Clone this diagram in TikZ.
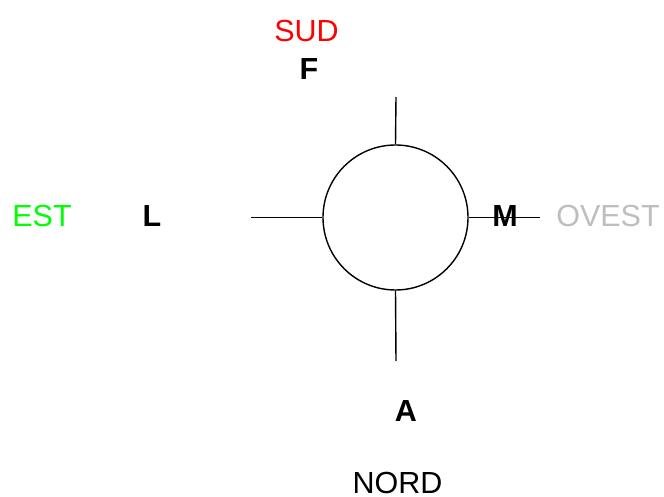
\documentclass[tikz,border=0pt]{standalone}
\usepackage{fontspec}
\setmainfont{Liberation Sans}
\begin{document}
\begin{tikzpicture}[x=1pt,y=-1pt,
  lbl/.style={inner sep=0pt,font=\fontsize{30.5}{32}\selectfont},
  blbl/.style={lbl,font=\fontsize{30.5}{32}\selectfont\bfseries},
  spoke/.style={line width=1.4pt,black}]
\useasboundingbox (0,0) rectangle (664,497);
\node[circle,draw,line width=1.4pt,minimum size=145pt,inner sep=0pt] (c) at (395.5,217.5) {};
\coordinate (tn) at (396,97);
\coordinate (ts) at (396,361);
\coordinate (tw) at (251,217.5);
\coordinate (te) at (540,217.5);
\draw[spoke] (c.north) -- (tn);
\draw[spoke] (c.south) -- (ts);
\draw[spoke] (c.west) -- (tw);
\draw[spoke] (c.east) -- (te);
\node[lbl,text={rgb,255:red,255;green,0;blue,0}] (sud) at (306.5,31) {SUD};
\node[blbl] (f) at (309,69) {F};
\node[lbl,text={rgb,255:red,0;green,255;blue,0}] (est) at (42,216) {EST};
\node[blbl] (l) at (152,216) {L};
\node[blbl] (m) at (505,216) {M};
\node[lbl,text={rgb,255:red,190;green,190;blue,190}] (ovest) at (608,216) {OVEST};
\node[blbl] (a) at (406,411.5) {A};
\node[lbl] (nord) at (397.5,482.5) {NORD};
\end{tikzpicture}
\end{document}
